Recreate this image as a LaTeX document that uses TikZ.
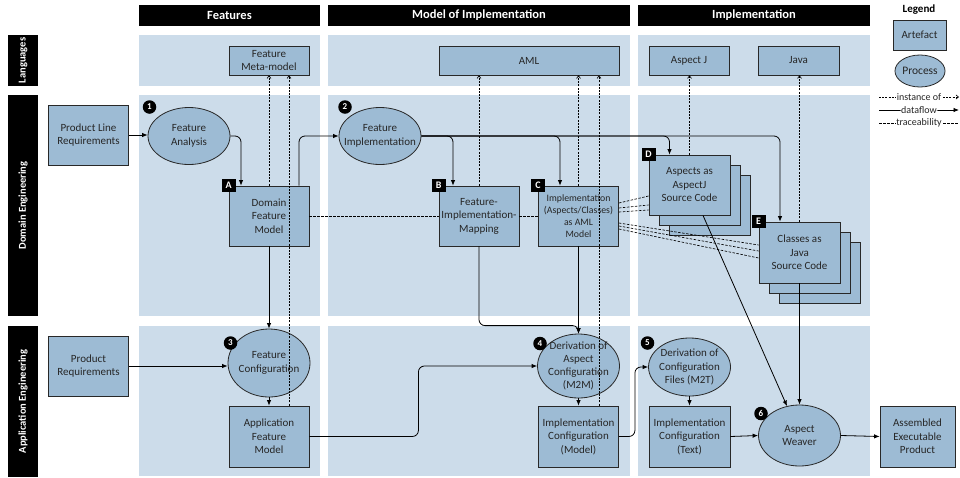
\documentclass[tikz,border=0pt]{standalone}
\usepackage{fontspec}
\setmainfont{Carlito}
\usetikzlibrary{arrows.meta,shapes.geometric,calc}
\definecolor{lanebg}{RGB}{204,220,234}
\definecolor{boxfill}{RGB}{157,187,212}
\definecolor{boxline}{RGB}{40,40,40}
\definecolor{txt}{RGB}{38,38,38}
\tikzset{
  lane/.style={fill=lanebg,draw=none},
  hdr/.style={fill=black,text=white,font=\fontsize{12.5}{14}\selectfont\bfseries,inner sep=0pt},
  rowhdr/.style={fill=black,text=white,font=\fontsize{10.5}{11}\selectfont\bfseries,inner sep=0pt,rotate=90},
  art/.style={rectangle,draw=boxline,fill=boxfill,text=txt,align=center,font=\fontsize{11}{13.5}\selectfont,inner sep=1pt,line width=0.8pt},
  proc/.style={ellipse,draw=boxline,fill=boxfill,line width=0.8pt,inner sep=0pt},
  ptext/.style={align=center,text=txt,font=\fontsize{11}{13.5}\selectfont,inner sep=0pt},
  badge/.style={circle,fill=black,text=white,font=\fontsize{9}{9}\selectfont\bfseries,inner sep=0pt,minimum size=13.5pt},
  sbadge/.style={rectangle,fill=black,text=white,font=\fontsize{10}{10}\selectfont\bfseries,inner sep=0pt,minimum width=14pt,minimum height=13pt},
  flow/.style={-{Latex[length=5.5pt,width=4.5pt]},line width=0.8pt,rounded corners=6pt},
  inst/.style={-{Straight Barb[length=2.5pt,width=4pt]},line width=0.65pt,dash pattern=on 2pt off 1.2pt},
  trace/.style={line width=0.65pt,dash pattern=on 2.5pt off 1.5pt},
  legtext/.style={fill=white,inner sep=0.5pt,text=txt,font=\fontsize{10}{11}\selectfont},
}
\begin{document}
\begin{tikzpicture}[x=1pt,y=-1pt]
\useasboundingbox (0,0) rectangle (960,477);
% lanes
\path[lane] (139,35) rectangle (320,86);
\path[lane] (328,35) rectangle (630,86);
\path[lane] (638,35) rectangle (870,86);
\path[lane] (139,95) rectangle (320,316);
\path[lane] (328,95) rectangle (630,316);
\path[lane] (638,95) rectangle (870,316);
\path[lane] (139,326) rectangle (320,476);
\path[lane] (328,326) rectangle (630,476);
\path[lane] (638,326) rectangle (870,476);
% headers
\node[hdr,minimum width=181pt,minimum height=21pt] (hfeat) at (229.5,15.5) {Features};
\node[hdr,minimum width=302pt,minimum height=21pt] (hmodel) at (479,15.5) {Model of Implementation};
\node[hdr,minimum width=232pt,minimum height=21pt] (himpl) at (754,15.5) {Implementation};
\node[rowhdr,minimum width=51pt,minimum height=30pt] (rlang) at (23,60.5) {Languages};
\node[rowhdr,minimum width=221pt,minimum height=30pt] (rdom) at (23,205.5) {Domain Engineering};
\node[rowhdr,minimum width=151pt,minimum height=30pt] (rapp) at (23,401.5) {Application Engineering};
% artefacts
\node[art,minimum width=80pt,minimum height=60pt] (plr) at (88.5,135) {Product Line\\Requirements};
\node[art,minimum width=80pt,minimum height=29pt] (fmm) at (269,60.5) {Feature\\Meta-model};
\node[art,minimum width=180pt,minimum height=29pt] (aml) at (529,60.5) {AML};
\node[art,minimum width=80pt,minimum height=29pt] (aj) at (689,60.5) {Aspect J};
\node[art,minimum width=81pt,minimum height=29pt] (java) at (798.5,60.5) {Java};
\node[art,minimum width=80pt,minimum height=60pt] (dfm) at (269,216) {Domain\\Feature\\Model};
\node[art,minimum width=80pt,minimum height=60pt] (fim) at (479,216) {Feature-\\Implementation-\\Mapping};
\node[art,minimum width=80pt,minimum height=60pt,font=\fontsize{9.8}{11.8}\selectfont] (cim) at (578.5,216) {Implementation\\(Aspects/Classes)\\as AML\\Model};
\node[art,minimum width=81pt,minimum height=60pt] (D3) at (709.5,205) {};
\node[art,minimum width=81pt,minimum height=60pt] (D2) at (699.5,195) {};
\node[art,minimum width=81pt,minimum height=60pt] (D1) at (689.5,185) {Aspects as\\AspectJ\\Source Code};
\node[art,minimum width=81pt,minimum height=61pt] (E3) at (819.5,272.5) {};
\node[art,minimum width=81pt,minimum height=61pt] (E2) at (809.5,262.5) {};
\node[art,minimum width=81pt,minimum height=61pt] (E1) at (799.5,252.5) {Classes as\\Java\\Source Code};
\node[art,minimum width=80pt,minimum height=60pt] (pr) at (88.5,366) {Product\\Requirements};
\node[art,minimum width=80pt,minimum height=61pt] (afm) at (269,436.5) {Application\\Feature\\Model};
\node[art,minimum width=80pt,minimum height=61pt] (icm) at (578.5,436.5) {Implementation\\Configuration\\(Model)};
\node[art,minimum width=81pt,minimum height=61pt] (ict) at (689.5,436.5) {Implementation\\Configuration\\(Text)};
\node[art,minimum width=75pt,minimum height=61pt] (aep) at (917.5,436.5) {Assembled\\Executable\\Product};
% processes
\node[proc,minimum width=82pt,minimum height=57pt] (fa) at (189,136) {};
\node[ptext] (fat) at (fa) {Feature\\Analysis};
\node[proc,minimum width=82pt,minimum height=57pt] (fi) at (380,136) {};
\node[ptext] (fit) at (fi) {Feature\\Implementation};
\node[proc,minimum width=82pt,minimum height=68pt] (fc) at (269,363) {};
\node[ptext] (fct) at (fc) {Feature\\Configuration};
\node[proc,minimum width=82pt,minimum height=64pt] (dac) at (578.5,366) {};
\node[ptext,font=\fontsize{11}{12.7}\selectfont] (dact) at (dac) {Derivation of\\Aspect\\Configuration\\(M2M)};
\node[proc,minimum width=82pt,minimum height=58pt] (dcf) at (689.5,367) {};
\node[ptext] (dcft) at (dcf) {Derivation of\\Configuration\\Files (M2T)};
\node[proc,minimum width=82pt,minimum height=61pt] (aw) at (799.5,435.5) {};
\node[ptext] (awt) at (aw) {Aspect\\Weaver};
% badges
\node[badge] (b1) at (149.5,107) {1};
\node[badge] (b2) at (345,107) {2};
\node[badge] (b3) at (230.5,343) {3};
\node[badge] (b4) at (540,343.5) {4};
\node[badge] (b5) at (647.5,343) {5};
\node[badge] (b6) at (761,413.5) {6};
\node[sbadge] (bA) at (dfm.north west) {A};
\node[sbadge] (bB) at (fim.north west) {B};
\node[sbadge] (bC) at (cim.north west) {C};
\node[sbadge] (bD) at (D1.north west) {D};
\node[sbadge] (bE) at (E1.north west) {E};
% dataflow
\draw[flow] (plr.east) -- (plr.east -| fa.west);
\draw[flow] (fa.east) -| ([xshift=-28pt]dfm.north);
\draw[flow] ([xshift=30pt]dfm.north) |- (fi.west);
\draw[flow] (fi.east) -| ([xshift=-26pt]fim.north);
\draw[flow] (fi.east) -| ([xshift=-18.5pt]cim.north);
\draw[flow] (fi.east) -| ([xshift=-20pt]D1.north);
\draw[flow] (fi.east) -| ([xshift=-19.5pt]E1.north);
\draw[flow] (dfm.south) -- (fc.north);
\draw[flow] (pr.east) -- (pr.east -| fc.west);
\draw[flow] (fc.south) -- (afm.north);
\draw[flow] (afm.east) -- ++(109,0) |- (dac.west);
\draw[flow] (fim.south) |- ([yshift=8pt]dac.north) -- (dac.north);
\draw[flow] (cim.south) -- (dac.north);
\draw[flow] (dac.south) -- (icm.north);
\draw[flow] (icm.east) -- ++(16,0) |- (dcf.west);
\draw[flow] (dcf.south) -- (ict.north);
\draw[flow] (ict.east) -- (aw.west);
\draw[flow] (aw.east) -- (aep.west);
\draw[flow] ([xshift=13.5pt]D1.south) -- ([xshift=-12.5pt,yshift=-1.5pt]aw.north);
\draw[flow] (E1.south) -- (aw.north);
% instance of
\draw[inst] (dfm.north) -- (fmm.south);
\draw[inst] ([xshift=20pt]afm.north) -- ([xshift=20pt]fmm.south);
\draw[inst] (fim.north) -- (fim.north |- aml.south);
\draw[inst] (cim.north) -- (cim.north |- aml.south);
\draw[inst] ([xshift=20.5pt]icm.north) -- ([xshift=20.5pt]icm.north |- aml.south);
\draw[inst] (D1.north) -- (D1.north |- aj.south);
\draw[inst] (E1.north) -- (E1.north |- java.south);
% traceability
\draw[trace] (dfm.east) -- (fim.west);
\draw[trace] (fim.east) -- (cim.west);
\draw[trace] ([yshift=13pt]cim.east) -- ([yshift=-11pt]D1.west);
\draw[trace] ([yshift=8pt]cim.east) -- ([yshift=-20pt]D1.west);
\draw[trace] ([yshift=4pt]cim.east) -- ([yshift=-25pt]D1.west);
\draw[trace] ([yshift=-7pt]cim.east) -- ([yshift=7.5pt]E1.west);
\draw[trace] ([yshift=-10pt]cim.east) -- ([yshift=1.5pt]E1.west);
\draw[trace] ([yshift=-13pt]cim.east) -- ([yshift=-5.5pt]E1.west);
% legend
\node[text=black,font=\fontsize{11}{12}\selectfont\bfseries] (leg) at (919,10) {Legend};
\node[art,minimum width=53pt,minimum height=30pt] (lart) at (919.5,35) {Artefact};
\node[proc,minimum width=50pt,minimum height=32pt,text=txt,font=\fontsize{11.5}{12}\selectfont] (lproc) at (920,71) {Process};
\coordinate (l1a) at (879,97); \coordinate (l1b) at (959,97);
\coordinate (l2a) at (879,110); \coordinate (l2b) at (959,110);
\coordinate (l3a) at (879,123); \coordinate (l3b) at (959,123);
\draw[inst] (l1a) -- node[legtext] (lt1) {instance of} (l1b);
\draw[flow] (l2a) -- node[legtext] (lt2) {dataflow} (l2b);
\draw[trace] (l3a) -- node[legtext] (lt3) {traceability} (l3b);
\end{tikzpicture}
\end{document}
